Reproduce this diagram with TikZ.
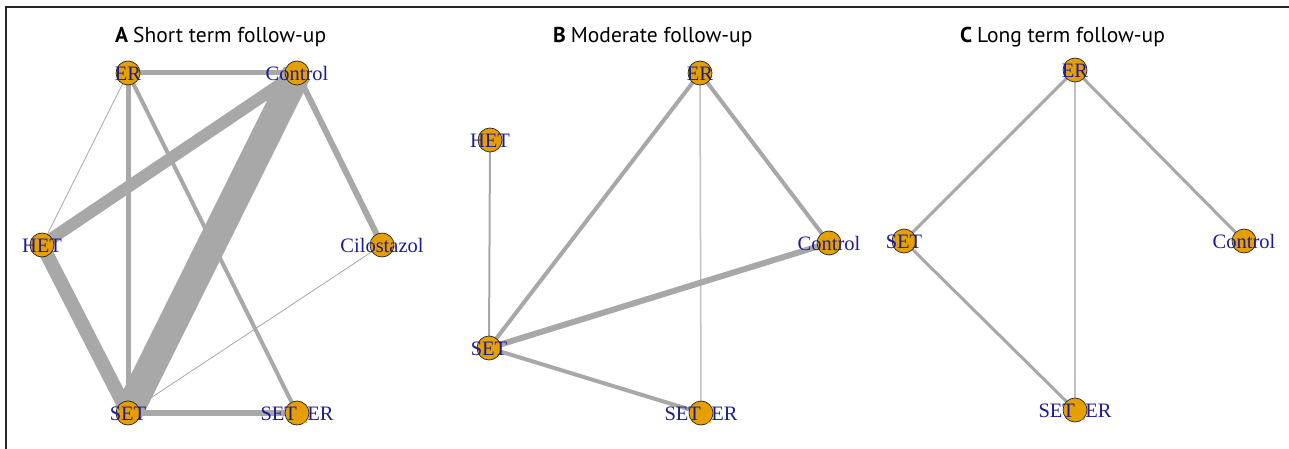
\documentclass[tikz,border=0pt]{standalone}
\usepackage{fontspec}
\setmainfont{Liberation Serif}
\newfontfamily\titlefont{PT Sans}
\definecolor{edgegray}{HTML}{A8A8A8}
\definecolor{lightedge}{HTML}{C0C0C0}
\definecolor{nodefill}{HTML}{E69F00}
\definecolor{labelblue}{HTML}{1C1C96}
\begin{document}
\begin{tikzpicture}[x=1pt,y=-1pt,
  lbl/.style={font=\fontsize{20.5}{20.5}\selectfont, text=labelblue, inner sep=0pt, anchor=base},
  dot/.style={circle, draw=black!85, line width=0.7pt, fill=nodefill, minimum size=24pt, inner sep=0pt},
  edge/.style={draw=edgegray, line cap=butt},
  thinedge/.style={draw=lightedge, line cap=butt, line width=1.5pt},
  ttl/.style={font=\titlefont\fontsize{21.5}{21.5}\selectfont, anchor=base west, inner sep=0pt}]
\useasboundingbox (0,0) rectangle (1289,449);
\fill[white] (0,0) rectangle (1289,449);
\draw[line width=2pt, black!85] (6,449) -- (6,7) -- (1289,7);

% titles
\node[ttl] (tA) at (115,43) {\textbf{A}\hspace{5pt}Short term follow-up};
\node[ttl] (tB) at (553,43) {\textbf{B}\hspace{5pt}Moderate follow-up};
\node[ttl] (tC) at (960,43) {\textbf{C}\hspace{5pt}Long term follow-up};

% ---------- panel A ----------
\coordinate (aER) at (128,73);
\coordinate (aCtrl) at (297,73);
\coordinate (aHET) at (42,245);
\coordinate (aCil) at (382,245);
\coordinate (aSET) at (128,413);
\coordinate (aSE) at (297,413);
\draw[edge, line width=5pt] (aER) -- (aCtrl);
\draw[edge, line width=0.8pt] (aER) -- (aHET);
\draw[edge, line width=5pt] (aER) -- (aSET);
\draw[edge, line width=4pt] (aER) -- (aSE);
\draw[edge, line width=12pt] (aCtrl) -- (aHET);
\draw[edge, line width=29pt] (aCtrl) -- (aSET);
\draw[edge, line width=6pt] (aCtrl) -- (aCil);
\draw[edge, line width=14pt] (aHET) -- (aSET);
\draw[edge, line width=6pt] (aSET) -- (aSE);
\draw[edge, line width=0.8pt] (aSET) -- (aCil);

% ---------- panel B ----------
\coordinate (bER) at (700,73);
\coordinate (bHET) at (490,140);
\coordinate (bCtrl) at (829,243);
\coordinate (bSET) at (489,348);
\coordinate (bSE) at (701,413);
\draw[edge, line width=4pt] (bER) -- (bSET);
\draw[edge, line width=4pt] (bER) -- (bCtrl);
\draw[thinedge] (bER) -- (bSE);
\draw[edge, line width=2pt] (bHET) -- (bSET);
\draw[edge, line width=6pt] (bSET) -- (bCtrl);
\draw[edge, line width=4pt] (bSET) -- (bSE);

% ---------- panel C ----------
\coordinate (cER) at (1075,70);
\coordinate (cSET) at (904,241);
\coordinate (cCtrl) at (1244,241);
\coordinate (cSE) at (1075,410);
\draw[edge, line width=3pt] (cER) -- (cSET);
\draw[edge, line width=3pt] (cER) -- (cCtrl);
\draw[thinedge] (cER) -- (cSE);
\draw[edge, line width=3pt] (cSET) -- (cSE);

% node markers
\foreach \n in {aER, aCtrl, aHET, aCil, aSET, aSE, bER, bHET, bCtrl, bSET, bSE, cER, cSET, cCtrl, cSE}{
  \node[dot] (\n-d) at (\n) {};
}
% labels
\foreach \n/\t in {aER/ER, aCtrl/Control, aHET/HET, aCil/Cilostazol, aSET/SET, aSE/SET{\color{nodefill}\_}ER,
                   bER/ER, bHET/HET, bCtrl/Control, bSET/SET, bSE/SET{\color{nodefill}\_}ER,
                   cER/ER, cSET/SET, cCtrl/Control, cSE/SET{\color{nodefill}\_}ER}{
  \node[lbl] (\n-l) at ([yshift=-7.5pt]\n) {\t};
}
\end{tikzpicture}
\end{document}
